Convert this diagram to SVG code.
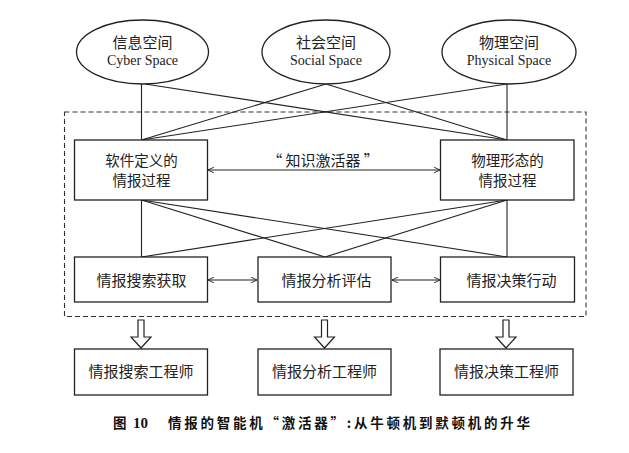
<svg xmlns="http://www.w3.org/2000/svg" width="629" height="453" viewBox="0 0 629 453">
<style>
.shape{fill:#fff;stroke:#222;stroke-width:1.3}
.ln{stroke:#222;stroke-width:1.1;fill:none}
.cn{font-family:"Noto Sans CJK SC",sans-serif;font-size:15px;fill:#222;text-anchor:middle}
.cn2{font-family:"Noto Sans CJK SC",sans-serif;font-size:14.5px;fill:#222;text-anchor:middle}
.en{font-family:"Liberation Serif",serif;font-size:14px;fill:#222;text-anchor:middle}
.cap{font-family:"Noto Sans CJK SC",sans-serif;font-size:13.5px;font-weight:700;fill:#111}
.hollow{fill:#fff;stroke:#222;stroke-width:1.2;stroke-linejoin:miter}
</style>
<defs>
<marker id="chev" viewBox="0 0 10 10" refX="9.5" refY="5" markerWidth="7" markerHeight="7" orient="auto-start-reverse" markerUnits="userSpaceOnUse">
<path d="M1,1 L9.5,5 L1,9" fill="none" stroke="#222" stroke-width="1.3"/>
</marker>
</defs>
<rect x="64.5" y="112" width="521.5" height="204.5" fill="none" stroke="#333" stroke-width="1.1" stroke-dasharray="5,3"/>
<g id="connectors">
<line class="ln" x1="141.5" y1="84" x2="141.5" y2="140"/>
<line class="ln" x1="145" y1="84" x2="507" y2="140"/>
<line class="ln" x1="326" y1="84" x2="141.5" y2="140"/>
<line class="ln" x1="326" y1="84" x2="507" y2="140"/>
<line class="ln" x1="507" y1="84" x2="141.5" y2="140"/>
<line class="ln" x1="507" y1="84" x2="507" y2="140"/>
<line class="ln" x1="141.5" y1="200" x2="141.5" y2="257"/>
<line class="ln" x1="141.5" y1="200" x2="325" y2="257"/>
<line class="ln" x1="141.5" y1="200" x2="507" y2="257"/>
<line class="ln" x1="507" y1="200" x2="141.5" y2="257"/>
<line class="ln" x1="507" y1="200" x2="325" y2="257"/>
<line class="ln" x1="507" y1="200" x2="507" y2="257"/>
<line class="ln" x1="208" y1="170" x2="440" y2="170" marker-start="url(#chev)" marker-end="url(#chev)"/>
<line class="ln" x1="208" y1="280" x2="257" y2="280" marker-start="url(#chev)" marker-end="url(#chev)"/>
<line class="ln" x1="392" y1="280" x2="440" y2="280" marker-start="url(#chev)" marker-end="url(#chev)"/>
<path class="hollow" d="M138,320 H144 V337 H151 L141,348 L131,337 H138 Z"/>
<path class="hollow" d="M321.5,320 H327.5 V337 H334.5 L324.5,348 L314.5,337 H321.5 Z"/>
<path class="hollow" d="M503,320 H509 V337 H516 L506,348 L496,337 H503 Z"/>
</g>
<g id="cyber">
<ellipse class="shape" cx="142.5" cy="52" rx="66" ry="32"/>
<text class="cn" x="142.5" y="47.5">信息空间</text>
<text class="en" x="142.5" y="65">Cyber Space</text>
</g>
<g id="social">
<ellipse class="shape" cx="326" cy="52" rx="64" ry="32"/>
<text class="cn" x="326" y="47.5">社会空间</text>
<text class="en" x="326" y="65">Social Space</text>
</g>
<g id="physical">
<ellipse class="shape" cx="509" cy="52" rx="67" ry="32"/>
<text class="cn" x="509" y="47.5">物理空间</text>
<text class="en" x="509" y="65">Physical Space</text>
</g>
<g id="label">
<text class="cn" x="323" y="166">“ 知识激活器 ”</text>
</g>
<g id="software">
<rect class="shape" x="74.5" y="140" width="133" height="60"/>
<text class="cn2" x="141.5" y="165.5">软件定义的</text>
<text class="cn2" x="141.5" y="185.5">情报过程</text>
</g>
<g id="physproc">
<rect class="shape" x="440.5" y="140" width="133.5" height="60"/>
<text class="cn2" x="507.5" y="165.5">物理形态的</text>
<text class="cn2" x="507.5" y="185.5">情报过程</text>
</g>
<g id="search">
<rect class="shape" x="74.5" y="257" width="133" height="45"/>
<text class="cn" x="141.5" y="285.5">情报搜索获取</text>
</g>
<g id="analysis">
<rect class="shape" x="258" y="257" width="133" height="45"/>
<text class="cn" x="326.5" y="285.5">情报分析评估</text>
</g>
<g id="decision">
<rect class="shape" x="440.5" y="257" width="134" height="45"/>
<text class="cn" x="511.5" y="285.5">情报决策行动</text>
</g>
<g id="eng-search">
<rect class="shape" x="74.5" y="349" width="133" height="46"/>
<text class="cn" x="141" y="377">情报搜索工程师</text>
</g>
<g id="eng-analysis">
<rect class="shape" x="258" y="349" width="133" height="46"/>
<text class="cn" x="324.5" y="377">情报分析工程师</text>
</g>
<g id="eng-decision">
<rect class="shape" x="440" y="349" width="133" height="46"/>
<text class="cn" x="506.5" y="377">情报决策工程师</text>
</g>
<g id="caption">
<text class="cap" x="113" y="427.5">图<tspan x="133" font-family="Liberation Serif" font-size="15px">10</tspan></text>
<text class="cap" x="168" y="427.5" textLength="362" lengthAdjust="spacing">情报的智能机“激活器”:从牛顿机到默顿机的升华</text>
</g>
</svg>
